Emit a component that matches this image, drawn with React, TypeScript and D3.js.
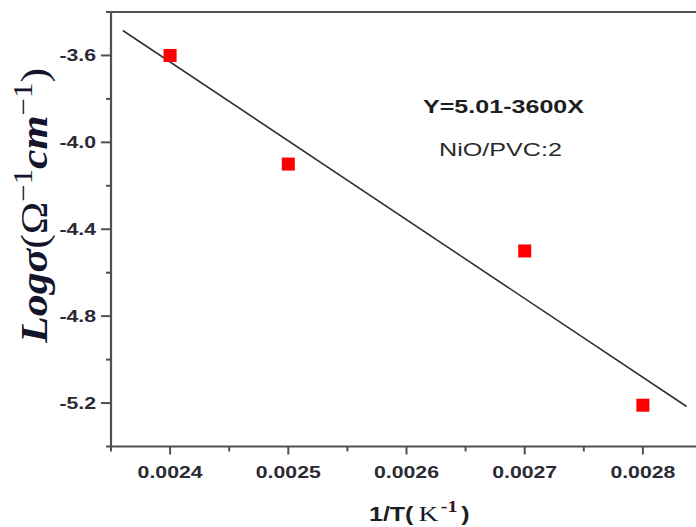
import * as d3 from "d3";

// values
const invT = [0.0024, 0.0025, 0.0027, 0.0028];
const logSigma = [-3.6, -4.1, -4.5, -5.21];

// ends of the fitted line Y = 5.01 - 3600X, as drawn
const fitX = [0.00236, 0.002837];
const fitY = [-3.485, -5.216];

const xTicks = [0.0024, 0.0025, 0.0026, 0.0027, 0.0028];
const xTickLabels = ["0.0024", "0.0025", "0.0026", "0.0027", "0.0028"];
const xMinor = [0.00235, 0.00245, 0.00255, 0.00265, 0.00275, 0.00285];
const yTicks = [-3.6, -4.0, -4.4, -4.8, -5.2];
const yTickLabels = ["-3.6", "-4.0", "-4.4", "-4.8", "-5.2"];
const yMinor = [-3.4, -3.8, -4.2, -4.6, -5.0, -5.4];

const equation = "Y=5.01-3600X";
const sampleName = "NiO/PVC:2";

const W = 696;
const H = 527;
const stretch = 1.25; // the source image is widened a little

export default function App() {
  const x = d3.scaleLinear().domain([0.00235, 0.00285]).range([111, 702]);
  const y = d3.scaleLinear().domain([-5.4, -3.4]).range([446.5, 12]);

  const fitLine = d3
    .line<number>()
    .x((d) => x(d))
    .y((d, i) => y(fitY[i]));

  const axisColor = "#505050";
  const labelColor = "#2a2a35";
  const x0 = x.range()[0];
  const yBottom = y.range()[0];
  const yTop = y.range()[1];

  return (
    <svg
      width={W}
      height={H}
      style={{ position: "absolute", left: 0, top: 0, background: "#fff" }}
    >
      {/* frame */}
      <line x1={x0} x2={W + 10} y1={yTop} y2={yTop} stroke={axisColor} strokeWidth={2.2} />
      <line x1={x0} x2={W + 10} y1={yBottom} y2={yBottom} stroke={axisColor} strokeWidth={2.2} />
      <line x1={x0} x2={x0} y1={yTop - 1} y2={yBottom + 1} stroke={axisColor} strokeWidth={2.2} />

      {/* y ticks */}
      {yTicks.map((t, i) => (
        <g key={"yt" + i}>
          <line x1={x0 - 10} x2={x0} y1={y(t)} y2={y(t)} stroke={axisColor} strokeWidth={2} />
          <g transform={`translate(96,${y(t) + 6}) scale(${stretch},1)`}>
            <text
              textAnchor="end"
              fontFamily="Liberation Sans, Arial, sans-serif"
              fontWeight="bold"
              fontSize={17}
              fill={labelColor}
            >
              {yTickLabels[i]}
            </text>
          </g>
        </g>
      ))}
      {yMinor.map((t, i) => (
        <line key={"ym" + i} x1={x0 - 5} x2={x0} y1={y(t)} y2={y(t)} stroke={axisColor} strokeWidth={2} />
      ))}

      {/* x ticks */}
      {xTicks.map((t, i) => (
        <g key={"xt" + i}>
          <line x1={x(t)} x2={x(t)} y1={yBottom} y2={yBottom + 8} stroke={axisColor} strokeWidth={2} />
          <g transform={`translate(${x(t)},478) scale(${stretch},1)`}>
            <text
              textAnchor="middle"
              fontFamily="Liberation Sans, Arial, sans-serif"
              fontWeight="bold"
              fontSize={17}
              fill={labelColor}
            >
              {xTickLabels[i]}
            </text>
          </g>
        </g>
      ))}
      {xMinor.map((t, i) => (
        <line key={"xm" + i} x1={x(t)} x2={x(t)} y1={yBottom} y2={yBottom + 5} stroke={axisColor} strokeWidth={2} />
      ))}

      {/* fitted line */}
      <path d={fitLine(fitX) || ""} fill="none" stroke="#333" strokeWidth={1.6} />

      {/* data */}
      {invT.map((v, i) => (
        <rect
          key={"p" + i}
          x={x(v) - 6.5}
          y={y(logSigma[i]) - 6.5}
          width={13}
          height={13}
          fill="#ff0000"
        />
      ))}

      {/* annotations */}
      <text
        x={423}
        y={113}
        textLength={161}
        lengthAdjust="spacingAndGlyphs"
        fontFamily="Liberation Sans, Arial, sans-serif"
        fontWeight="bold"
        fontSize={19}
        fill="#1e1e1e"
      >
        {equation}
      </text>
      <text
        x={439}
        y={156}
        textLength={123}
        lengthAdjust="spacingAndGlyphs"
        fontFamily="Liberation Sans, Arial, sans-serif"
        fontSize={17.5}
        fill="#2a2a2a"
      >
        {sampleName}
      </text>

      {/* y axis title */}
      <g transform={`translate(47,343) scale(${stretch},1) rotate(-90)`}>
        <text
          textLength={275}
          lengthAdjust="spacingAndGlyphs"
          fontFamily="Liberation Serif, Times New Roman, serif"
          fontSize={30}
          fill="#14142a"
        >
          <tspan fontWeight="bold" fontStyle="italic">Logσ</tspan>
          <tspan>(Ω</tspan>
          <tspan fontSize={21} dy={-12}>−1</tspan>
          <tspan fontWeight="bold" fontStyle="italic" dy={12}>cm</tspan>
          <tspan fontSize={21} dy={-12}>−1</tspan>
          <tspan dy={12}>)</tspan>
        </text>
      </g>

      {/* x axis title */}
      <g transform={`translate(369,521) scale(${stretch},1)`}>
        <text fontFamily="Liberation Sans, Arial, sans-serif" fontWeight="bold" fontSize={20} fill="#1e1e1e">
          <tspan>1/T(</tspan>
          <tspan
            dx={4}
            fontFamily="Liberation Serif, Times New Roman, serif"
            fontWeight="normal"
            fontSize={22}
            fill="#14142a"
          >
            K
          </tspan>
          <tspan
            dx={2}
            dy={-9}
            fontFamily="Liberation Serif, Times New Roman, serif"
            fontSize={16}
            fill="#3a1414"
          >
            -1
          </tspan>
          <tspan dx={3} dy={9}>)</tspan>
        </text>
      </g>
    </svg>
  );
}
